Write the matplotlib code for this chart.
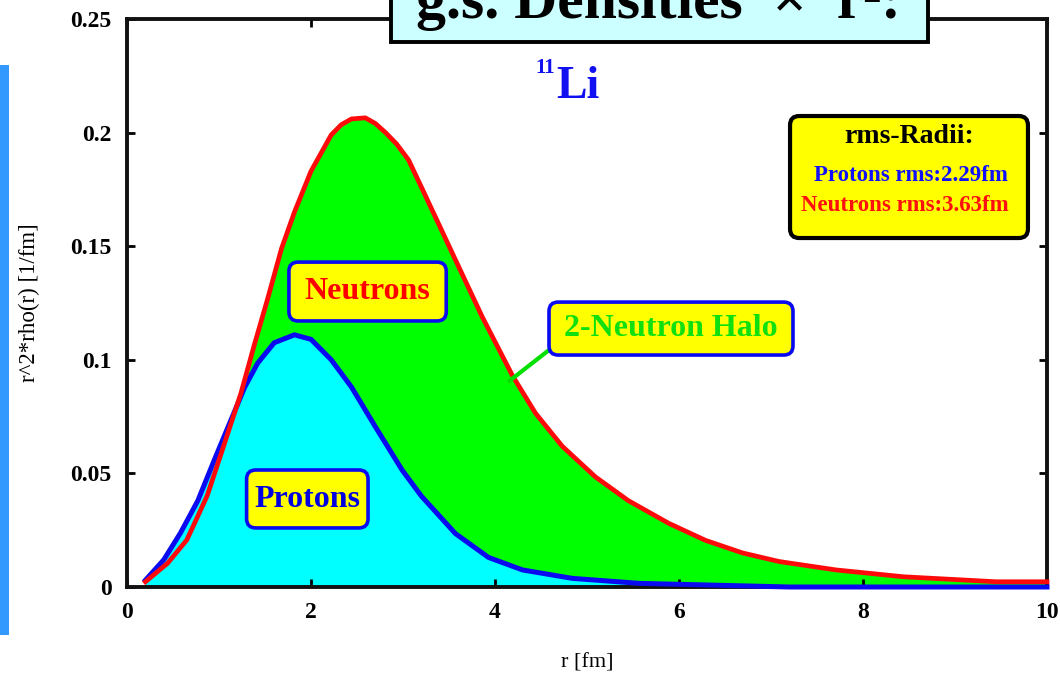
import matplotlib
matplotlib.use("Agg")
import matplotlib.pyplot as plt
from matplotlib.patches import FancyBboxPatch, Rectangle

plt.rcParams["font.family"] = ["Liberation Serif", "DejaVu Serif"]

# r [fm] and r^2*rho(r) [1/fm] for the 11Li ground state
r_neutrons = [0.20, 0.44, 0.65, 0.87, 1.05, 1.24, 1.38, 1.53, 1.68, 1.82,
              2.00, 2.22, 2.33, 2.44, 2.59, 2.70, 2.81, 2.93, 3.06, 3.20,
              3.57, 3.86, 4.19, 4.44, 4.73, 5.09, 5.45, 5.89, 6.29, 6.69,
              7.09, 7.71, 8.44, 9.45, 10.0]
rho_neutrons = [0.0023, 0.0104, 0.0207, 0.040, 0.062, 0.0855, 0.106, 0.127,
                0.149, 0.165, 0.183, 0.199, 0.2035, 0.206, 0.2065, 0.204,
                0.200, 0.195, 0.188, 0.176, 0.144, 0.119, 0.093, 0.0765,
                0.062, 0.0485, 0.038, 0.028, 0.0205, 0.015, 0.0112, 0.0075,
                0.0045, 0.0023, 0.0023]

r_protons = [0.20, 0.40, 0.58, 0.77, 0.95, 1.13, 1.28, 1.42, 1.60, 1.82,
             2.00, 2.22, 2.44, 2.70, 2.99, 3.20, 3.57, 3.93, 4.30, 4.84,
             5.57, 6.70, 7.20, 10.0]
rho_protons = [0.003, 0.012, 0.0237, 0.038, 0.056, 0.0735, 0.088, 0.0985,
               0.1075, 0.111, 0.109, 0.100, 0.088, 0.0705, 0.0515, 0.040,
               0.0235, 0.013, 0.0075, 0.0038, 0.0016, 0.0005, 0.0, 0.0]

rms_protons = 2.29
rms_neutrons = 3.63

x_ticks = [0, 2, 4, 6, 8, 10]
y_ticks = [0, 0.05, 0.1, 0.15, 0.2, 0.25]
y_tick_labels = ["0", "0.05", "0.1", "0.15", "0.2", "0.25"]

W, H = 1060, 675


def px(x, y):
    """pixel position (from top-left) -> figure fraction"""
    return x / W, 1 - y / H


fig = plt.figure(figsize=(W / 100, H / 100), dpi=100)
fig.patch.set_facecolor("white")

# slide accent bar on the left edge
fig.patches.append(Rectangle(px(0, 635), 9 / W, 570 / H, transform=fig.transFigure,
                             facecolor="#3399ff", edgecolor="none"))

ax = fig.add_axes([127 / W, 88 / H, 920 / W, 568 / H])

ax.fill_between(r_neutrons, 0, rho_neutrons, color="#00ff00", lw=0, zorder=1)
ax.fill_between(r_protons, 0, rho_protons, color="#00ffff", lw=0, zorder=1.5)
ax.plot(r_protons, rho_protons, color="#0a0af0", lw=3.6, zorder=3,
        solid_joinstyle="round", clip_on=False)
ax.plot(r_neutrons, rho_neutrons, color="#ff0a0a", lw=3.4, zorder=3.2,
        solid_joinstyle="round", clip_on=False)

ax.set_xlim(0, 10)
ax.set_ylim(0, 0.25)
ax.set_xticks(x_ticks)
ax.set_yticks(y_ticks)
ax.set_yticklabels(y_tick_labels)
ax.tick_params(direction="in", length=6, width=2, top=True, right=True,
               labelsize=17, color="black")
ax.tick_params(axis="x", pad=11)
ax.tick_params(axis="y", pad=11)
for lab in ax.get_xticklabels() + ax.get_yticklabels():
    lab.set_fontweight("bold")
for sp in ax.spines.values():
    sp.set_linewidth(2.8)
    sp.set_color("#111111")

ax.set_xlabel("r [fm]", fontsize=16, labelpad=22)
ax.set_ylabel("r^2*rho(r) [1/fm]", fontsize=16.5)
ax.yaxis.set_label_coords(-0.094, 0.5)

# rounded label boxes (data coords; aspect keeps corners round on screen)
aspect = (1 / 2272) / (1 / 92)


def label_box(x0, x1, y0, y1, edge, lw=2.6):
    box = FancyBboxPatch((x0, y0), x1 - x0, y1 - y0,
                         boxstyle="round,pad=0,rounding_size=0.1",
                         mutation_aspect=aspect, facecolor="#ffff00",
                         edgecolor=edge, lw=lw, zorder=5, clip_on=False)
    ax.add_patch(box)


label_box(1.76, 3.47, 0.1171, 0.1430, "#0a0af0")
ax.text(2.614, 0.1301, "Neutrons", color="#ff0000", fontsize=23,
        fontweight="bold", ha="center", va="center", zorder=6)

label_box(1.30, 2.62, 0.0260, 0.0515, "#0a0af0")
ax.text(1.962, 0.0387, "Protons", color="#0000e0", fontsize=23,
        fontweight="bold", ha="center", va="center", zorder=6)

ax.plot([4.587, 4.141], [0.1043, 0.0902], color="#00e000", lw=3,
        zorder=4, solid_capstyle="butt")
label_box(4.587, 7.239, 0.1021, 0.1254, "#0a0af0")
ax.text(5.913, 0.1138, "2-Neutron Halo", color="#10e010", fontsize=23,
        fontweight="bold", ha="center", va="center", zorder=6)

label_box(7.207, 9.793, 0.1536, 0.2073, "black", lw=3)
ax.text(8.5, 0.1985, "rms-Radii:", color="black", fontsize=20,
        fontweight="bold", ha="center", va="center", zorder=6)
ax.text(8.52, 0.1813, f"Protons rms:{rms_protons:.2f}fm", color="#1010ff",
        fontsize=16.5, fontweight="bold", ha="center", va="center", zorder=6)
ax.text(8.45, 0.1680, f"Neutrons rms:{rms_neutrons:.2f}fm", color="#ff1010",
        fontsize=16.5, fontweight="bold", ha="center", va="center", zorder=6)

# title banner running off the top of the figure
tx0, ty0 = px(391, 42)
fig.patches.append(Rectangle((tx0, ty0), (928 - 391) / W, 0.2,
                             transform=fig.transFigure, facecolor="#ccffff",
                             edgecolor="black", lw=2.8, zorder=10))
fig.text(*px(658, 18), "g.s. Densities  \u00d7  r\u00b2:", fontsize=43,
         fontweight="bold", ha="center", va="baseline", zorder=11)

fig.text(*px(535, 73), "11", color="#1010f0", fontsize=15, fontweight="bold",
         ha="left", va="baseline")
fig.text(*px(556, 98), "Li", color="#1010f0", fontsize=33, fontweight="bold",
         ha="left", va="baseline")

fig.savefig("out.png", dpi=100)
